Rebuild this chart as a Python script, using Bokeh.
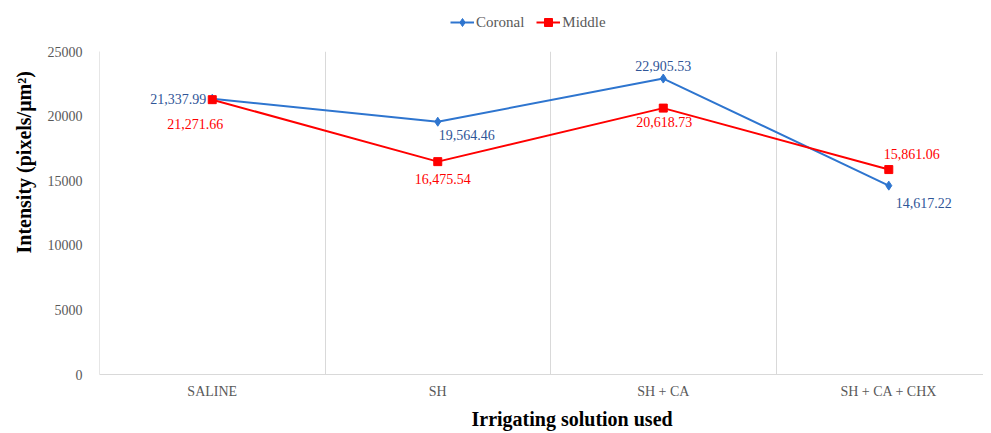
from bokeh.plotting import figure
from bokeh.models import ColumnDataSource, FixedTicker, Legend, LegendItem, Range1d, Title
from bokeh.layouts import column
from bokeh.embed import file_html
from bokeh.resources import INLINE

categories = ["SALINE", "SH", "SH + CA", "SH + CA + CHX"]
coronal = [21337.99, 19564.46, 22905.53, 14617.22]
middle = [21271.66, 16475.54, 20618.73, 15861.06]
y_ticks = [0, 5000, 10000, 15000, 20000, 25000]

# label placement (screen px) relative to each point
cor_dx = [-6, 1, 0, 7]
cor_dy = [0, 13, -13, 17]
cor_align = ["right", "left", "center", "left"]
mid_dx = [-17, 5, 1, 23]
mid_dy = [24, 17, 14, -16]
mid_align = ["center", "center", "center", "center"]

FONT = "Liberation Serif"
BLUE = "#2E75CF"
BLUE_TXT = "#2F5597"
RED = "#FF0000"
GREY = "#595959"

xs = list(range(len(categories)))

# ---- legend strip on top ----
leg = figure(width=983, height=43, output_backend="svg", toolbar_location=None,
             x_range=Range1d(0, 1), y_range=Range1d(0, 1),
             min_border=0, min_border_left=0, min_border_right=0, min_border_top=0, min_border_bottom=0)
leg.axis.visible = False
leg.grid.visible = False
leg.outline_line_color = None
empty = ColumnDataSource(dict(x=[float("nan")], y=[float("nan")]))
g1 = leg.line("x", "y", source=empty, line_color=BLUE, line_width=2)
g2 = leg.scatter("x", "y", source=empty, marker="diamond", size=9, fill_color=BLUE, line_color=BLUE)
g3 = leg.line("x", "y", source=empty, line_color=RED, line_width=2)
g4 = leg.scatter("x", "y", source=empty, marker="square", size=8, fill_color=RED, line_color=RED)
legend = Legend(items=[LegendItem(label="Coronal", renderers=[g1, g2]),
                       LegendItem(label="Middle", renderers=[g3, g4])],
                orientation="horizontal", location=(351, 11),
                label_text_font=FONT, label_text_font_size="15px", label_text_color=GREY,
                glyph_width=24, label_standoff=2, spacing=12, padding=0, margin=0,
                border_line_color=None, background_fill_alpha=0)
leg.add_layout(legend, "center")

# ---- main chart ----
p = figure(width=983, height=390, output_backend="svg", toolbar_location=None,
           x_range=Range1d(-0.5, 3.42), y_range=Range1d(0, 25000),
           min_border_left=97, min_border_right=0, min_border_top=8, min_border_bottom=59)
p.outline_line_color = None
p.background_fill_color = "white"

src_c = ColumnDataSource(dict(x=xs, y=coronal, lab=[f"{v:,.2f}" for v in coronal],
                              dx=cor_dx, dy=cor_dy, al=cor_align))
src_m = ColumnDataSource(dict(x=xs, y=middle, lab=[f"{v:,.2f}" for v in middle],
                              dx=mid_dx, dy=mid_dy, al=mid_align))

p.line("x", "y", source=src_c, line_color=BLUE, line_width=2)
p.scatter("x", "y", source=src_c, marker="diamond", size=9, fill_color=BLUE, line_color=BLUE)
p.line("x", "y", source=src_m, line_color=RED, line_width=2)
p.scatter("x", "y", source=src_m, marker="square", size=8, fill_color=RED, line_color=RED)

p.text("x", "y", text="lab", source=src_c, x_offset="dx", y_offset="dy", text_align="al",
       text_baseline="middle", text_color=BLUE_TXT, text_font_size="14px", text_font={"value": FONT})
p.text("x", "y", text="lab", source=src_m, x_offset="dx", y_offset="dy", text_align="al",
       text_baseline="middle", text_color=RED, text_font_size="14px", text_font={"value": FONT})

p.xaxis.ticker = FixedTicker(ticks=xs)
p.xaxis.major_label_overrides = {i: c for i, c in enumerate(categories)}
p.xaxis.major_tick_line_color = None
p.xaxis.minor_tick_line_color = None
p.xaxis.axis_line_color = "#D9D9D9"
p.xaxis.major_label_text_font = FONT
p.xaxis.major_label_text_font_size = "14px"
p.xaxis.major_label_text_color = GREY
p.xaxis.major_label_standoff = 3

p.yaxis.ticker = FixedTicker(ticks=y_ticks)
p.yaxis.major_tick_line_color = None
p.yaxis.minor_tick_line_color = None
p.yaxis.axis_line_color = "#E6E6E6"
p.yaxis.major_label_text_font = FONT
p.yaxis.major_label_text_font_size = "14px"
p.yaxis.major_label_text_color = GREY
p.yaxis.major_label_standoff = 11

p.xgrid.ticker = FixedTicker(ticks=[0.5, 1.5, 2.5])
p.xgrid.grid_line_color = "#D9D9D9"
p.ygrid.grid_line_color = None

p.add_layout(Title(text="Irrigating solution used", align="left", offset=372, standoff=8,
                   text_font=FONT, text_font_size="20px", text_font_style="bold",
                   text_color="black"), "below")
p.add_layout(Title(text="Intensity (pixels/μm²)", align="left", offset=121, standoff=20,
                   text_font=FONT, text_font_size="20px", text_font_style="bold",
                   text_color="black"), "left")

layout = column(leg, p, spacing=0)
open("out.html", "w").write(file_html(layout, INLINE))
